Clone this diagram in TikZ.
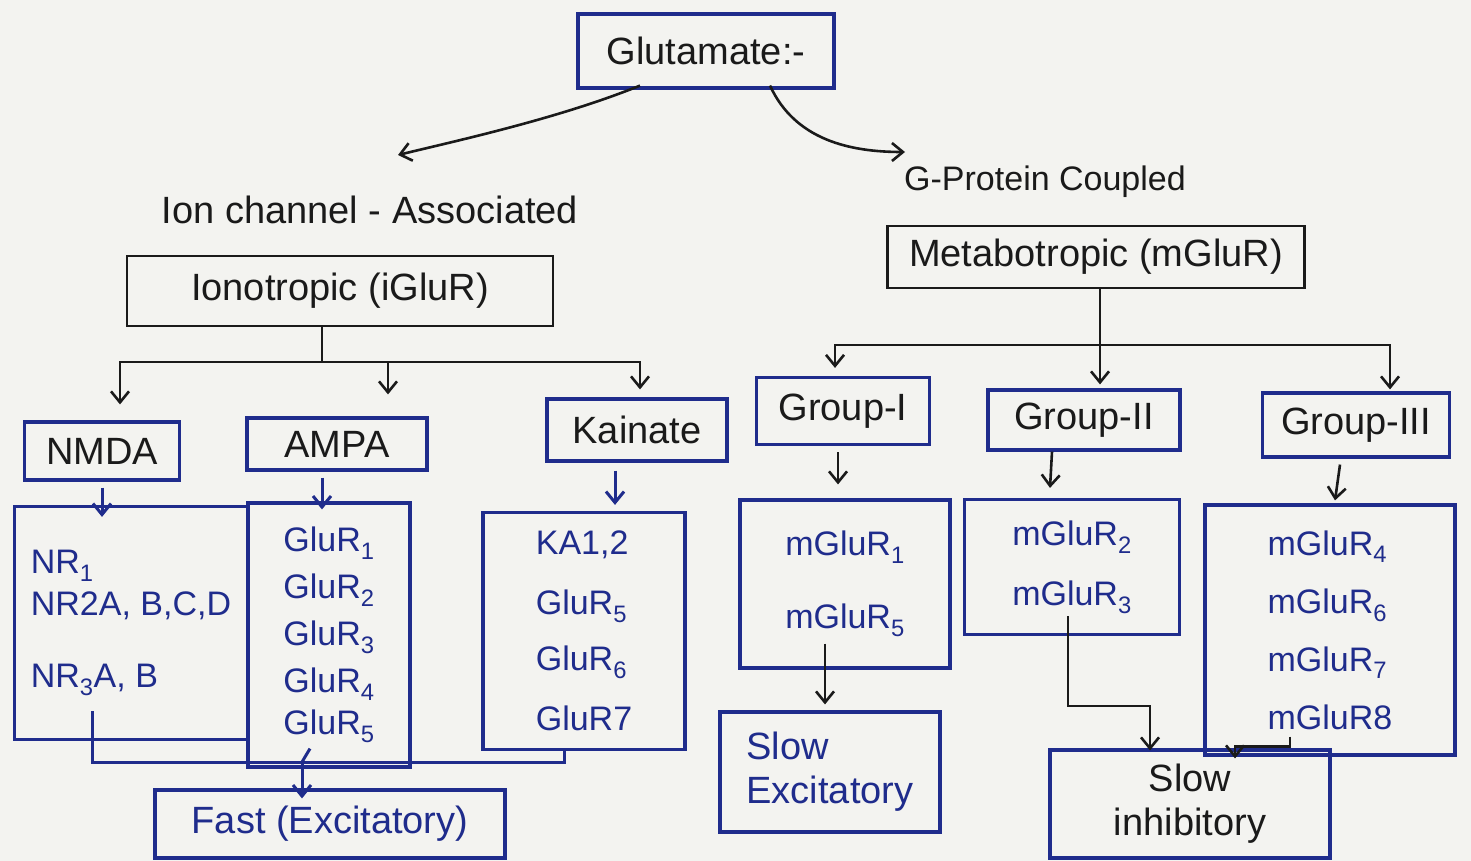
\documentclass[tikz,border=0pt]{standalone}
\usepackage{fontspec}
\setmainfont{Liberation Sans}
\usetikzlibrary{arrows.meta,calc}
\definecolor{paper}{HTML}{F3F3F0}
\definecolor{inkblue}{HTML}{1F2C8C}
\definecolor{inkblack}{HTML}{1A1A1A}
\begin{document}
\begin{tikzpicture}[x=1pt,y=-1pt,
  bbox/.style={draw=inkblue,line width=3.2pt,inner sep=0pt,rectangle},
  kbox/.style={draw=inkblack,line width=2.6pt,inner sep=0pt,rectangle},
  tx/.style={font=\fontsize{38}{44}\selectfont,text=inkblack},
  lst/.style={font=\fontsize{34}{42}\selectfont,text=inkblue,align=left},
  kline/.style={draw=inkblack,line width=2.6pt},
  bline/.style={draw=inkblue,line width=3pt},
  arr/.style={-{Straight Barb[length=11pt,width=18pt]}}
]
\fill[paper] (0,0) rectangle (1471,861);

% top level
\node[bbox,tx,minimum width=256pt,minimum height=74pt] (glu) at (706,51) {Glutamate:-};
\node[tx] (ionlbl) at (370,210) {Ion channel - Associated};
\node[kbox,tx,minimum width=426pt,minimum height=70pt] (iono) at (340,291) {Ionotropic (iGluR)};
\node[tx,font=\fontsize{34}{40}\selectfont] (gpc) at (1045,182) {G-Protein Coupled};
\node[kbox,tx,minimum width=417pt,minimum height=62pt] (meta) at (1096,257) {Metabotropic (mGluR)};
\coordinate (ionTip) at (398,155);
\coordinate (gpcTip) at (905,152);

% ionotropic families
\node[bbox,tx,minimum width=155pt,minimum height=58pt] (nmda) at (102,451) {NMDA};
\node[bbox,tx,minimum width=180pt,minimum height=52pt] (ampa) at (337,444) {AMPA};
\node[bbox,tx,minimum width=180pt,minimum height=62pt] (kain) at (637,430) {Kainate};

\node[bbox,lst,minimum width=233pt,minimum height=233pt] (nr) at (131,623)
  {NR\textsubscript{1}\\[0pt]NR2A, B,C,D\\[30pt]NR\textsubscript{3}A, B};
\node[bbox,lst,minimum width=162pt,minimum height=264pt] (al) at (329,635)
  {GluR\textsubscript{1}\\[5pt]GluR\textsubscript{2}\\[5pt]GluR\textsubscript{3}\\[5pt]GluR\textsubscript{4}\\[0pt]GluR\textsubscript{5}};
\node[bbox,lst,minimum width=202pt,minimum height=237pt] (kl) at (584,631)
  {KA1,2\\[18pt]GluR\textsubscript{5}\\[14pt]GluR\textsubscript{6}\\[18pt]GluR7};
\node[bbox,tx,text=inkblue,minimum width=350pt,minimum height=68pt] (fast) at (330,824) {Fast (Excitatory)};

% metabotropic groups
\node[bbox,tx,minimum width=173pt,minimum height=67pt] (g1) at (843,411) {Group-I};
\node[bbox,tx,minimum width=192pt,minimum height=60pt] (g2) at (1084,420) {Group-II};
\node[bbox,tx,minimum width=187pt,minimum height=64pt] (g3) at (1356,425) {Group-III};

\node[bbox,lst,minimum width=210pt,minimum height=168pt] (m15) at (845,584)
  {mGluR\textsubscript{1}\\[31pt]mGluR\textsubscript{5}};
\node[bbox,lst,minimum width=215pt,minimum height=135pt] (m23) at (1072,567)
  {mGluR\textsubscript{2}\\[18pt]mGluR\textsubscript{3}};
\node[bbox,lst,minimum width=250pt,minimum height=250pt] (m4) at (1330,630)
  {mGluR\textsubscript{4}\\[16pt]mGluR\textsubscript{6}\\[16pt]mGluR\textsubscript{7}\\[16pt]mGluR8};
\node[bbox,tx,text=inkblue,align=left,minimum width=220pt,minimum height=120pt] (se) at (830,772) {Slow\\Excitatory};
\node[bbox,tx,align=center,minimum width=280pt,minimum height=108pt] (si) at (1190,804) {Slow\\inhibitory};

% top connectors
\draw[kline,arr] ($(glu.south)+(-66,-4)$) .. controls (560,118) and (460,140) .. (ionTip);
\draw[kline,arr] ($(glu.south)+(64,-4)$) .. controls (795,140) and (850,152) .. (gpcTip);

% ionotropic bus
\coordinate (ibus) at (322,362);
\draw[kline] ($(iono.south)+(-18,0)$) -- (ibus);
\draw[kline,arr] (ibus) -| ($(nmda.north)+(18,-16)$);
\draw[kline,arr] (ibus) -| ($(ampa.north)+(51,-22)$);
\draw[kline,arr] (ibus) -| ($(kain.north)+(3,-8)$);

\draw[bline,arr] ($(nmda.south)+(0,6)$) -- ($(nmda.south |- nr.north)+(0,12)$);
\draw[bline,arr] ($(ampa.south)+(-15,6)$) -- ($(ampa.south |- al.north)+(-15,8)$);
\draw[bline,arr] ($(kain.south)+(-22,8)$) -- ($(kain.south |- kl.north)+(-22,-6)$);

% bottom-left bus to Fast
\coordinate (fbus) at (302,762);
\draw[bline] ($(nr.south)+(-39,-30)$) |- (fbus);
\draw[bline] ($(kl.south)+(-20,-2)$) |- (fbus);
\draw[bline] ($(al.south)+(-19,-20)$) -- (fbus);
\draw[bline,arr] (fbus) -- ($(fast.north)+(-28,10)$);

% metabotropic bus
\coordinate (mbus) at (1100,345);
\draw[kline] ($(meta.south)+(4,0)$) -- (mbus);
\draw[kline,arr] (mbus) -| ($(g1.north)+(-8,-8)$);
\draw[kline,arr] (mbus) -- ($(mbus |- g2.north)+(0,-4)$);
\draw[kline,arr] (mbus) -| ($(g3.north)+(34,-2)$);

\draw[kline,arr] ($(g1.south)+(-5,6)$) -- ($(m15.north)+(-7,-14)$);
\draw[kline,arr] ($(g2.south)+(-32,0)$) -- ($(m23.north)+(-22,-10)$);
\draw[kline,arr] ($(g3.south)+(-16,6)$) -- ($(m4.north)+(5,-3)$);

\draw[kline,arr] ($(m15.south)+(-20,-26)$) -- ($(se.north)+(-5,-6)$);
\draw[kline,arr] ($(m23.south)+(-4,-20)$) -- ++(0,90) -| ($(si.north)+(-40,2)$);
\draw[kline,arr] ($(m4.south)+(-40,-20)$) -- ++(0,10) -| ($(si.north)+(45,10)$);
\end{tikzpicture}
\end{document}
